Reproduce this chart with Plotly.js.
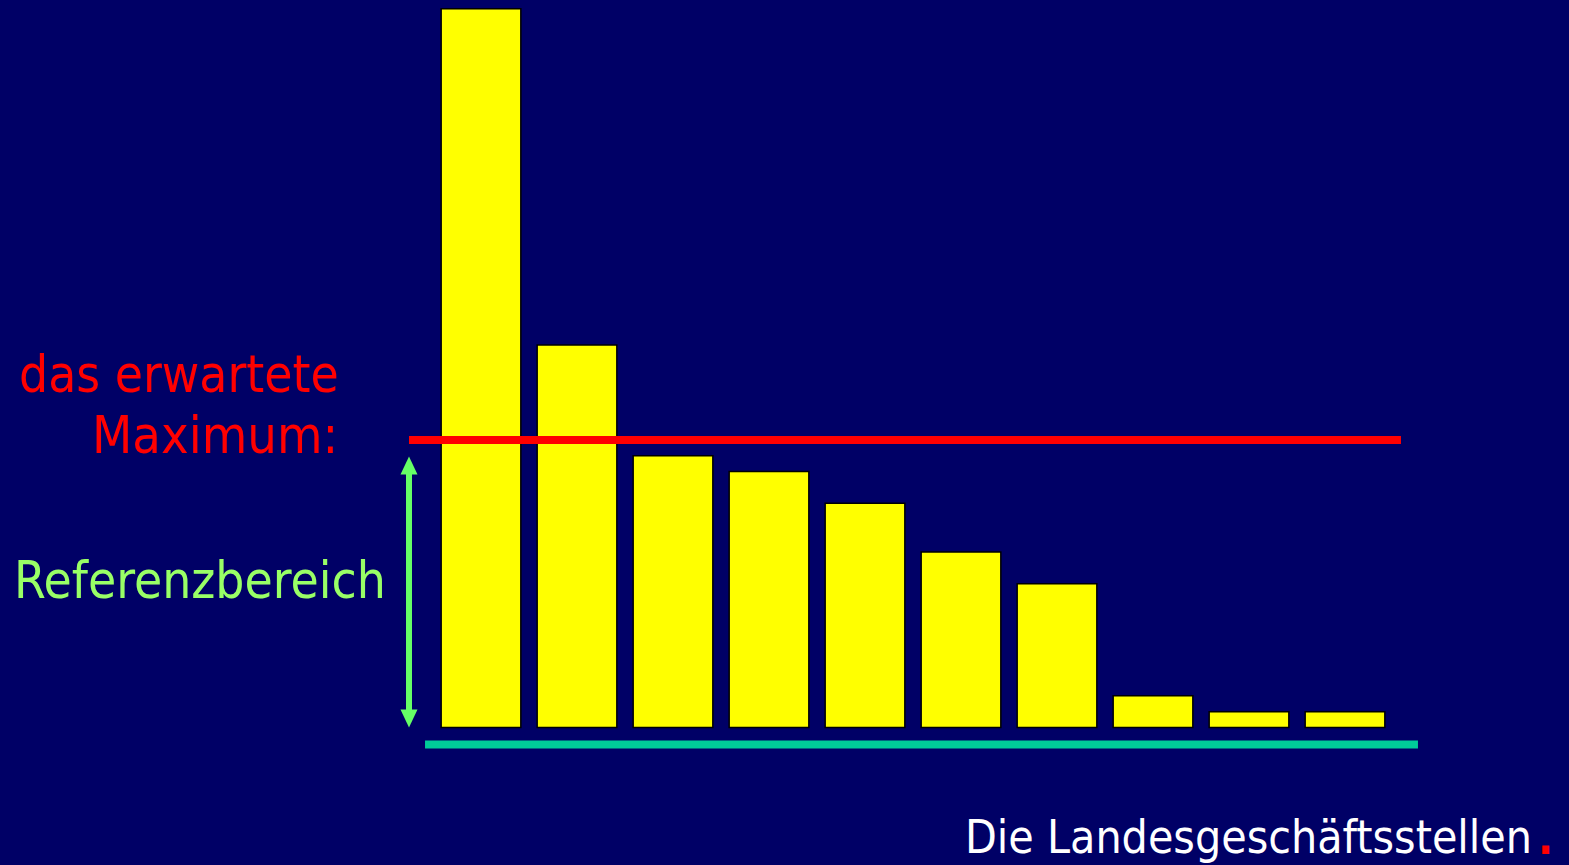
<!DOCTYPE html>
<html>
<head>
<meta charset="utf-8">
<script src="https://cdn.plot.ly/plotly-3.0.1.min.js"></script>
<style>html,body{margin:0;padding:0;background:#000066;}</style>
</head>
<body>
<div id="chart" style="width:1569px;height:865px;"></div>
<script>
// ---- data ----
var categories = [1, 2, 3, 4, 5, 6, 7, 8, 9, 10];
var values = [25, 13.3, 9.45, 8.9, 7.8, 6.1, 5.0, 1.1, 0.55, 0.55];
var expectedMax = 10;
var referenceLow = 0;
var referenceHigh = 9.42;
var baselineY = -0.59;

// ---- layout geometry ----
var W = 1569, H = 865;
var M = {l: 385, r: 128, t: 0, b: 103};
var PW = W - M.l - M.r, PH = H - M.t - M.b;
var xr = [0, 11], yr = [-1.2, 25.3];
function px2paperX(px) { return (px - M.l) / PW; }
function px2paperY(py) { return (M.t + PH - py) / PH; }
var xUnitPx = PW / (xr[1] - xr[0]);
var yUnitPx = PH / (yr[1] - yr[0]);

var font = '"DejaVu Sans Condensed", "DejaVu Sans", Tahoma, sans-serif';

var trace = {
  type: 'bar',
  x: categories,
  y: values,
  width: 0.83,
  marker: {color: '#FFFF00', line: {color: '#000000', width: 1.5}},
  hoverinfo: 'none'
};

// arrow (double-headed) for Referenzbereich
var ax = 0.25;
var headH = 18 / yUnitPx, headW = 8.5 / xUnitPx;
var shapes = [
  {type: 'line', xref: 'x', yref: 'y', x0: 0.25, x1: 10.583, y0: expectedMax, y1: expectedMax,
   line: {color: '#FF0000', width: 8}, layer: 'above'},
  {type: 'line', xref: 'x', yref: 'y', x0: 0.417, x1: 10.76, y0: baselineY, y1: baselineY,
   line: {color: '#00CC99', width: 8}},
  {type: 'line', xref: 'x', yref: 'y', x0: ax, x1: ax, y0: referenceLow + headH * 0.9, y1: referenceHigh - headH * 0.9,
   line: {color: '#66FF66', width: 6}},
  {type: 'path', xref: 'x', yref: 'y',
   path: 'M' + ax + ',' + referenceHigh + ' L' + (ax + headW) + ',' + (referenceHigh - headH) + ' L' + (ax - headW) + ',' + (referenceHigh - headH) + ' Z',
   fillcolor: '#66FF66', line: {width: 0}},
  {type: 'path', xref: 'x', yref: 'y',
   path: 'M' + ax + ',' + referenceLow + ' L' + (ax + headW) + ',' + (referenceLow + headH) + ' L' + (ax - headW) + ',' + (referenceLow + headH) + ' Z',
   fillcolor: '#66FF66', line: {width: 0}}
];

var annotations = [
  {text: 'das erwartete', xref: 'paper', yref: 'paper', x: px2paperX(341), y: px2paperY(374),
   xanchor: 'right', yanchor: 'middle', showarrow: false, font: {family: font, size: 51, color: '#FF0000'}},
  {text: 'Maximum:', xref: 'paper', yref: 'paper', x: px2paperX(340), y: px2paperY(435),
   xanchor: 'right', yanchor: 'middle', showarrow: false, font: {family: font, size: 52, color: '#FF0000'}},
  {text: 'Referenzbereich', xref: 'paper', yref: 'paper', x: px2paperX(12), y: px2paperY(580),
   xanchor: 'left', yanchor: 'middle', showarrow: false, font: {family: font, size: 51, color: '#99FF66'}},
  {text: 'Die Landesgeschäftsstellen', xref: 'paper', yref: 'paper', x: px2paperX(963), y: px2paperY(837),
   xanchor: 'left', yanchor: 'middle', showarrow: false, font: {family: font, size: 46, color: '#FFFFFF'}},
  {text: '<b>.</b>', xref: 'paper', yref: 'paper', x: px2paperX(1545.5), y: px2paperY(838),
   xanchor: 'center', yanchor: 'middle', showarrow: false, font: {family: font, size: 44, color: '#FF0000'}}
];

var layout = {
  width: W, height: H,
  margin: M,
  paper_bgcolor: '#000066',
  plot_bgcolor: '#000066',
  showlegend: false,
  xaxis: {range: xr, visible: false, showgrid: false, zeroline: false, fixedrange: true},
  yaxis: {range: yr, visible: false, showgrid: false, zeroline: false, fixedrange: true},
  shapes: shapes,
  annotations: annotations
};

Plotly.newPlot('chart', [trace], layout, {displayModeBar: false, staticPlot: true});
</script>
</body>
</html>
